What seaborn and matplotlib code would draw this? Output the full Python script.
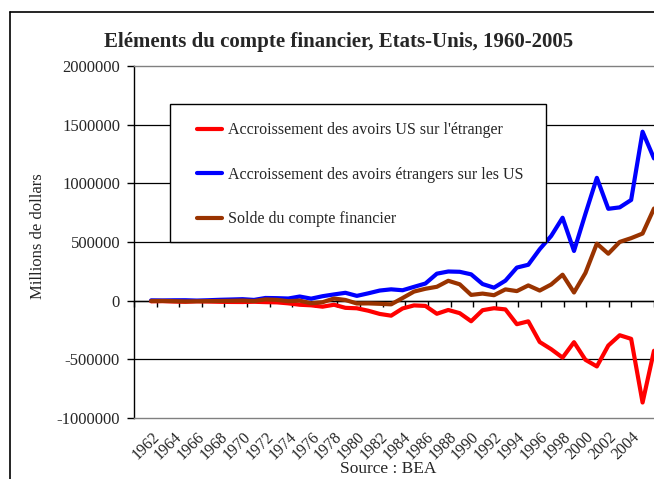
import numpy as np
import pandas as pd
import seaborn as sns
import matplotlib.pyplot as plt
from matplotlib.lines import Line2D
from matplotlib.patches import Rectangle

# Données BEA (millions de dollars), 1960-2005 - pas de valeur lue pour 1960
years = list(range(1960, 2006))

us_assets_abroad = [np.nan, -5538, -4174, -7270, -9560, -5716, -7321, -9757, -10977, -11585,
                    -9337, -12475, -14497, -22874, -34745, -39703, -51269, -34785, -61130, -64915,
                    -85815, -113054, -127882, -66373, -40376, -44752, -111723, -79296, -106573, -175383,
                    -81234, -64389, -74410, -200552, -176056, -352376, -413409, -485475, -353829, -504062,
                    -560523, -382616, -294646, -325424, -868000, -426801]

foreign_assets_us = [np.nan, 2705, 1911, 3217, 3643, 742, 3661, 7379, 9928, 12702,
                     6359, 22970, 21461, 18388, 35341, 17170, 38018, 53219, 67036, 40852,
                     62612, 86232, 96589, 88694, 117752, 146115, 230009, 248634, 246065, 224390,
                     141571, 110808, 170663, 282040, 305989, 438562, 551096, 706809, 423569, 740210,
                     1046896, 782859, 795161, 858303, 1440105, 1212250]

financial_balance = [np.nan, -2833, -2263, -4053, -5917, -4974, -3660, -2378, -1049, 1117,
                     -2978, 10495, 6964, -4486, 596, -22533, -13251, 18434, 5906, -24063,
                     -23203, -26822, -31293, 22321, 77376, 101363, 118286, 169338, 139492, 49007,
                     60337, 46419, 96253, 81488, 129933, 86186, 137687, 221334, 69740, 236148,
                     486373, 400243, 500515, 532879, 572105, 785449]

series_names = ["Accroissement des avoirs US sur l'étranger",
                "Accroissement des avoirs étrangers sur les US",
                "Solde du compte financier"]
colors = ["#ff0000", "#0000ff", "#993300"]

y_ticks = [-1000000, -500000, 0, 500000, 1000000, 1500000, 2000000]
label_years = list(range(1962, 2005, 2))

df = pd.DataFrame({
    "annee": years * 3,
    "valeur": us_assets_abroad + foreign_assets_us + financial_balance,
    "serie": [series_names[0]] * len(years) + [series_names[1]] * len(years) + [series_names[2]] * len(years),
})

sns.set_style("white")
plt.rcParams["font.family"] = ["Liberation Serif", "DejaVu Serif"]

fig = plt.figure(figsize=(6.54, 4.79), dpi=100)
ax = fig.add_axes([134 / 654, 61 / 479, 520 / 654, 352 / 479])

sns.lineplot(data=df, x="annee", y="valeur", hue="serie", hue_order=series_names,
             palette=colors, linewidth=3, ax=ax, legend=False, zorder=3)

ax.set_xlim(1959.5, 2005)
ax.set_ylim(-1000000, 2000000)
ax.set_xlabel("")
ax.set_ylabel("")

# axe Y
ax.set_yticks(y_ticks)
ax.set_yticklabels([str(v) for v in y_ticks], fontsize=12)
ax.tick_params(axis="y", direction="out", length=5, width=1, color="black", pad=5, left=True)
ax.yaxis.grid(True, color="black", linewidth=0.9, zorder=1)
gl = ax.yaxis.get_gridlines()
gl[0].set_visible(False)
gl[-1].set_visible(False)

# étiquettes des années en bas
ticks_pos = [y - 0.5 for y in label_years]
ax.set_xticks(ticks_pos)
ax.set_xticklabels([str(y) for y in label_years], rotation=45, ha="right", va="center",
                   rotation_mode="anchor", fontsize=11.5)
ax.tick_params(axis="x", length=0, pad=12)

ax.spines["right"].set_visible(False)
ax.spines["left"].set_color("black")
ax.spines["top"].set_color("#808080")
ax.spines["bottom"].set_color("#808080")
for side in ["left", "top", "bottom"]:
    ax.spines[side].set_linewidth(1)

# axe des catégories qui coupe à 0
ax2 = ax.twiny()
ax2.set_xlim(ax.get_xlim())
ax2.set_xticks([1959.5] + ticks_pos + [2005.5])
ax2.xaxis.set_ticks_position("bottom")
ax2.spines["bottom"].set_position(("data", 0))
ax2.spines["bottom"].set_color("black")
ax2.spines["bottom"].set_linewidth(1)
for side in ["top", "left", "right"]:
    ax2.spines[side].set_visible(False)
ax2.tick_params(axis="x", direction="out", length=4, width=1, color="black",
                labelbottom=False, labeltop=False, top=False, bottom=True)
ax.set_zorder(2)
ax2.set_zorder(1)
ax.patch.set_visible(False)

# cadre de la légende
ax.add_patch(Rectangle((0.0692, 0.5), 0.7231, 0.392, transform=ax.transAxes,
                       facecolor="white", edgecolor="black", linewidth=1, zorder=4))
handles = [Line2D([], [], color=c, linewidth=3) for c in colors]
leg = ax.legend(handles, series_names, loc="upper left", bbox_to_anchor=(0.121, 0.84),
                frameon=False, fontsize=11.5, borderpad=0, borderaxespad=0,
                labelspacing=1.78, handlelength=1.55, handletextpad=0.4)
leg.set_zorder(5)

fig.text(339 / 654, 1 - 42 / 479, "Eléments du compte financier, Etats-Unis, 1960-2005",
         ha="center", va="center", fontsize=15, fontweight="bold")
fig.text(38 / 654, 1 - 236 / 479, "Millions de dollars", rotation=90,
         ha="center", va="center", fontsize=12)
fig.text(388 / 654, 1 - 469 / 479, "Source : BEA", ha="center", va="center", fontsize=12.5)

# cadre extérieur du graphique
fig.add_artist(Line2D([10 / 654, 1], [1 - 12 / 479, 1 - 12 / 479], color="black", linewidth=1.2))
fig.add_artist(Line2D([10 / 654, 10 / 654], [0, 1 - 12 / 479], color="black", linewidth=1.2))

fig.savefig("out.png", dpi=100)
